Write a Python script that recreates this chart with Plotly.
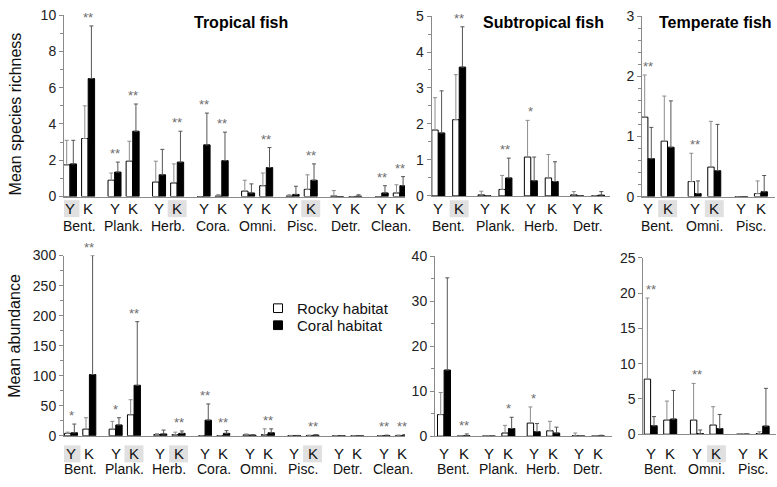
import plotly.graph_objects as go

W, H = 777, 487
FONT = "Liberation Sans, Arial, sans-serif"

sites = ["Y", "K"]
trop_groups = ["Bent.", "Plank.", "Herb.", "Cora.", "Omni.", "Pisc.", "Detr.", "Clean."]
sub_groups = ["Bent.", "Plank.", "Herb.", "Detr."]
temp_groups = ["Bent.", "Omni.", "Pisc."]

# ---- Tropical fish: species richness (order: group x site Y,K) ----
trop_rich_rocky = [1.75, 3.2, 0.9, 1.95, 0.8, 0.75, 0, 0.03, 0.3, 0.6, 0.03, 0.4, 0.03, 0, 0, 0.2]
trop_rich_rocky_sd = [1.35, 1.8, 0.4, 1.1, 1.15, 1.05, 0, 0.08, 0.6, 0.7, 0.07, 0.8, 0.3, 0, 0, 0.45]
trop_rich_coral = [1.8, 6.5, 1.35, 3.6, 1.2, 1.9, 2.85, 1.98, 0.2, 1.6, 0.12, 0.9, 0, 0.02, 0.2, 0.6]
trop_rich_coral_sd = [1.3, 2.9, 0.55, 1.5, 1.4, 1.7, 1.75, 1.57, 0.5, 1.1, 0.45, 0.9, 0, 0.08, 0.4, 0.5]
trop_rich_sig = ["", "**", "**", "**", "", "**", "**", "**", "", "**", "", "**", "", "", "**", "**"]
trop_rich_hl = [1, 0, 0, 0, 0, 1, 0, 0, 0, 0, 0, 1, 0, 0, 0, 0]

# ---- Tropical fish: abundance ----
trop_abd_rocky = [4, 11, 11, 35, 2, 2, 0, 0, 1.5, 2, 0.3, 0.5, 0.2, 0, 0, 0.5]
trop_abd_rocky_sd = [2, 19, 13, 25, 1.5, 4, 0, 0, 1.5, 9.5, 0.3, 0.5, 0.3, 0, 0, 0.7]
trop_abd_coral = [5, 102, 18, 84, 3, 4, 26, 4, 1, 5, 0.3, 1, 0, 0, 0.5, 1]
trop_abd_coral_sd = [14.5, 198, 12, 106, 6.5, 4, 27, 4.5, 0.8, 6.5, 0.3, 0.8, 0, 0, 0.5, 0.8]
trop_abd_sig = ["*", "**", "*", "**", "", "**", "**", "**", "", "**", "", "**", "", "", "**", "**"]
trop_abd_hl = [1, 0, 0, 1, 0, 1, 0, 0, 0, 0, 0, 1, 0, 0, 0, 0]

# ---- Subtropical fish: species richness ----
sub_rich_rocky = [1.83, 2.12, 0.03, 0.18, 1.08, 0.5, 0.03, 0]
sub_rich_rocky_sd = [0.9, 1.25, 0.1, 0.39, 1.02, 0.65, 0.09, 0]
sub_rich_coral = [1.75, 3.58, 0, 0.5, 0.42, 0.4, 0, 0.02]
sub_rich_coral_sd = [1.17, 1.12, 0, 0.55, 0.66, 0.55, 0, 0.1]
sub_rich_sig = ["", "**", "", "**", "*", "", "", ""]
sub_rich_hl = [0, 1, 0, 0, 0, 0, 0, 0]

# ---- Subtropical fish: abundance ----
sub_abd_rocky = [4.8, 0, 0, 0.7, 2.9, 1.2, 0.1, 0]
sub_abd_rocky_sd = [4.9, 0, 0, 1.7, 3.6, 2.1, 0.6, 0]
sub_abd_coral = [14.7, 0.1, 0, 1.7, 1.0, 0.7, 0, 0.05]
sub_abd_coral_sd = [20.5, 0.4, 0, 2.5, 1.8, 1.3, 0, 0.15]
sub_abd_sig = ["", "**", "", "*", "*", "", "", ""]
sub_abd_hl = [0, 0, 0, 0, 0, 0, 0, 0]

# ---- Temperate fish: species richness ----
temp_rich_rocky = [1.32, 0.92, 0.25, 0.49, 0, 0.05]
temp_rich_rocky_sd = [0.7, 0.75, 0.47, 0.76, 0, 0.21]
temp_rich_coral = [0.63, 0.82, 0.05, 0.43, 0, 0.08]
temp_rich_coral_sd = [0.52, 0.77, 0.21, 0.77, 0, 0.27]
temp_rich_sig = ["**", "", "**", "", "", ""]
temp_rich_hl = [0, 1, 0, 1, 0, 0]

# ---- Temperate fish: abundance ----
temp_abd_rocky = [7.8, 2.0, 2.0, 1.3, 0, 0.1]
temp_abd_rocky_sd = [11.5, 2.7, 5.2, 2.6, 0, 0.25]
temp_abd_coral = [1.2, 2.15, 0.1, 0.8, 0, 1.15]
temp_abd_coral_sd = [1.3, 4.05, 0.5, 2.0, 0, 5.35]
temp_abd_sig = ["**", "", "**", "", "", ""]
temp_abd_hl = [0, 0, 0, 1, 0, 0]

titles = ["Tropical fish", "Subtropical fish", "Temperate fish"]
ytitles = ["Mean species richness", "Mean abundance"]
legend_names = ["Rocky habitat", "Coral habitat"]


def fx(p):
    return p / W


def fy(p):
    return 1 - p / H


panels = [
    dict(groups=trop_groups, rm=trop_rich_rocky, rs=trop_rich_rocky_sd, cm=trop_rich_coral, cs=trop_rich_coral_sd,
         sig=trop_rich_sig, hl=trop_rich_hl, ymax=10, dtick=2, minor=1,
         left=64, right=405, top=7.3, bottom=195, c0=70, u=18.1, G=2.46, lab_y=207.5, grp_y=225),
    dict(groups=sub_groups, rm=sub_rich_rocky, rs=sub_rich_rocky_sd, cm=sub_rich_coral, cs=sub_rich_coral_sd,
         sig=sub_rich_sig, hl=sub_rich_hl, ymax=5, dtick=1, minor=0.5,
         left=431.7, right=610, top=8.3, bottom=194.3, c0=438.3, u=20.85, G=2.22, lab_y=207.5, grp_y=225),
    dict(groups=temp_groups, rm=temp_rich_rocky, rs=temp_rich_rocky_sd, cm=temp_rich_coral, cs=temp_rich_coral_sd,
         sig=temp_rich_sig, hl=temp_rich_hl, ymax=3, dtick=1, minor=0.2,
         left=642, right=775, top=8.3, bottom=195, c0=648, u=19.6, G=2.38, lab_y=207.5, grp_y=225),
    dict(groups=trop_groups, rm=trop_abd_rocky, rs=trop_abd_rocky_sd, cm=trop_abd_coral, cs=trop_abd_coral_sd,
         sig=trop_abd_sig, hl=trop_abd_hl, ymax=300, dtick=50, minor=25,
         left=64, right=405, top=256, bottom=442.3, c0=71, u=18.3, G=2.44, lab_y=461, grp_y=477),
    dict(groups=sub_groups, rm=sub_abd_rocky, rs=sub_abd_rocky_sd, cm=sub_abd_coral, cs=sub_abd_coral_sd,
         sig=sub_abd_sig, hl=sub_abd_hl, ymax=40, dtick=10, minor=5,
         left=435, right=612, top=256.7, bottom=442.7, c0=444, u=19.5, G=2.3, lab_y=461, grp_y=477),
    dict(groups=temp_groups, rm=temp_abd_rocky, rs=temp_abd_rocky_sd, cm=temp_abd_coral, cs=temp_abd_coral_sd,
         sig=temp_abd_sig, hl=temp_abd_hl, ymax=25, dtick=5, minor=None,
         left=643.3, right=776, top=258.3, bottom=440.7, c0=650.7, u=19.5, G=2.37, lab_y=461, grp_y=477),
]

fig = go.Figure()
annotations = []
shapes = []
layout = {}
AXIS_COLOR = "#8a8a8a"
STAR_COLOR = "#6e6e6e"

for i, p in enumerate(panels):
    k = "" if i == 0 else str(i + 1)
    xa, ya = "x" + k, "y" + k
    u, G = p["u"], p["G"]
    n = len(p["groups"]) * 2
    centers = [(j // 2) * G + (j % 2) for j in range(n)]
    bw = 6.4 / u
    off = 3.3 / u
    fig.add_trace(go.Bar(
        x=[c - off for c in centers], y=p["rm"], width=bw, xaxis=xa, yaxis=ya,
        marker=dict(color="white", line=dict(color="black", width=1)),
        error_y=dict(type="data", array=p["rs"], arrayminus=[0] * n, symmetric=False,
                     color="#8c8c8c", thickness=1, width=2),
        showlegend=False, name=legend_names[0]))
    fig.add_trace(go.Bar(
        x=[c + off for c in centers], y=p["cm"], width=bw, xaxis=xa, yaxis=ya,
        marker=dict(color="black", line=dict(color="black", width=1)),
        error_y=dict(type="data", array=p["cs"], arrayminus=[0] * n, symmetric=False,
                     color="#555555", thickness=1, width=2),
        showlegend=False, name=legend_names[1]))

    x0 = (p["left"] - p["c0"]) / u
    x1 = (p["right"] - p["c0"]) / u
    layout["xaxis" + k] = dict(domain=[fx(p["left"]), fx(p["right"])], range=[x0, x1], anchor=ya,
                               showline=True, linecolor=AXIS_COLOR, linewidth=1, showticklabels=False,
                               ticks="", showgrid=False, zeroline=False)
    yax = dict(domain=[fy(p["bottom"]), fy(p["top"])], range=[0, p["ymax"]], anchor=xa,
               showline=True, linecolor=AXIS_COLOR, linewidth=1, ticks="outside", ticklen=4,
               tickcolor=AXIS_COLOR, tick0=0, dtick=p["dtick"], showgrid=False, zeroline=False,
               tickfont=dict(size=14, color="#222222", family=FONT))
    if p["minor"]:
        yax["minor"] = dict(dtick=p["minor"], tick0=0, ticks="outside", ticklen=3,
                            tickcolor=AXIS_COLOR, showgrid=False)
    layout["yaxis" + k] = yax

    # site labels, highlight boxes, significance stars
    for j, c in enumerate(centers):
        if p["hl"][j]:
            shapes.append(dict(type="rect", xref=xa, yref="paper", xsizemode="pixel", ysizemode="pixel",
                               xanchor=c, yanchor=fy(p["lab_y"]), x0=-9.5, x1=9.5, y0=-8.5, y1=8.5,
                               fillcolor="#e0e0e0", line=dict(width=0), layer="below"))
        annotations.append(dict(x=c, y=fy(p["lab_y"]), xref=xa, yref="paper", text=sites[j % 2],
                                showarrow=False, xanchor="center", yanchor="middle",
                                font=dict(size=15, color="#111111", family=FONT)))
        if p["sig"][j]:
            top = max(p["rm"][j] + p["rs"][j], p["cm"][j] + p["cs"][j])
            annotations.append(dict(x=c, y=top, xref=xa, yref=ya, text=p["sig"][j], showarrow=False,
                                    xanchor="center", yanchor="bottom", yshift=-1,
                                    font=dict(size=13, color=STAR_COLOR, family=FONT)))
    for g, name in enumerate(p["groups"]):
        annotations.append(dict(x=g * G + 0.5, y=fy(p["grp_y"]), xref=xa, yref="paper", text=name,
                                showarrow=False, xanchor="center", yanchor="middle",
                                font=dict(size=14, color="#111111", family=FONT)))

# panel titles
for t, xc in zip(titles, [240.5, 543, 715]):
    annotations.append(dict(x=fx(xc), y=fy(15), xref="paper", yref="paper", text="<b>" + t + "</b>",
                            showarrow=False, xanchor="center", yanchor="middle",
                            font=dict(size=16, color="#000000", family=FONT)))
# y-axis titles
for t, yc in zip(ytitles, [110, 339]):
    annotations.append(dict(x=fx(15), y=fy(yc), xref="paper", yref="paper", text=t, textangle=-90,
                            showarrow=False, xanchor="center", yanchor="middle",
                            font=dict(size=16, color="#111111", family=FONT)))

# legend (drawn manually)
for name, yc, fill in zip(legend_names, [310.4, 328], ["white", "black"]):
    shapes.append(dict(type="rect", xref="paper", yref="paper", x0=fx(273.5), x1=fx(282.5),
                       y0=fy(yc + 4.5), y1=fy(yc - 4.5), fillcolor=fill, line=dict(color="black", width=1)))
    annotations.append(dict(x=fx(295), y=fy(yc), xref="paper", yref="paper", text=name, showarrow=False,
                            xanchor="left", yanchor="middle", font=dict(size=15, color="#111111", family=FONT)))

fig.update_layout(
    width=W, height=H, margin=dict(l=0, r=0, t=0, b=0),
    paper_bgcolor="white", plot_bgcolor="white", barmode="overlay",
    font=dict(family=FONT), annotations=annotations, shapes=shapes, showlegend=False,
    **layout)

fig.write_html("out.html", config={"displayModeBar": False},
               post_script="document.body.style.margin='0px';document.body.style.overflow='hidden';")
